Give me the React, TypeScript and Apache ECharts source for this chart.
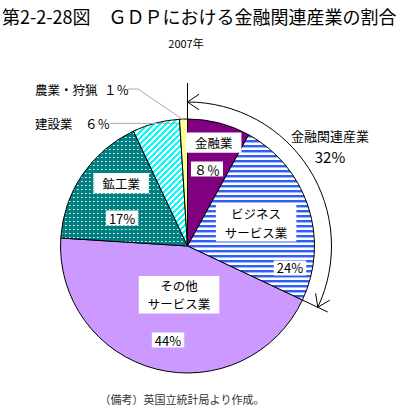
import React, { useEffect, useRef } from 'react';
import * as echarts from 'echarts';

const categories = ['金融業', 'ビジネスサービス業', 'その他サービス業', '鉱工業', '建設業', '農業・狩猟'];
const shares = [8, 24, 44, 17, 6, 1];
const shareText = ['８％', '24%', '44%', '17%', '６％', '１％'];
const labelLines = [['金融業'], ['ビジネス', 'サービス業'], ['その他', 'サービス業'], ['鉱工業'], ['建設業'], ['農業・狩猟']];
const groupName = '金融関連産業';
const groupCount = 2;
const titleText = '第2-2-28図　ＧＤＰにおける金融関連産業の割合';
const subtitleText = '2007年';
const noteText = '（備考）英国立統計局より作成。';

// layout (not data): [angle shift in degrees from slice middle, radius fraction]
const nameLayout = [[-0.2, 0.84], [-0.6, 0.57], [-4.6, 0.39], [9.3, 0.72]];
const pctLayout = [[-0.2, 0.625], [30.1, 0.825], [-2.7, 0.756], [-11.1, 0.56]];

const FONT = '"Noto Sans CJK JP", "Noto Sans", sans-serif';
const CX = 187.5;
const CY = 246;
const R = 127;

function pattern(kind: string) {
  let w = 4, h = 4;
  if (kind === 'hstripe') { w = 4; h = 5; }
  if (kind === 'diag') { w = 6; h = 6; }
  const c = document.createElement('canvas');
  c.width = w; c.height = h;
  const ctx = c.getContext('2d')!;
  for (let y = 0; y < h; y++) {
    for (let x = 0; x < w; x++) {
      let col = '#ffffff';
      if (kind === 'hstripe') {
        col = y < 2 ? '#2f5ff5' : y === 2 ? '#9fb5ff' : '#ffffff';
      } else if (kind === 'diag') {
        col = (x + y) % 6 < 3 ? '#00ffff' : '#ffffff';
      } else if (kind === 'dots') {
        col = x === 1 && y === 1 ? '#ffffff' : x === 2 && y === 1 ? '#7fbfbf' : '#008080';
      }
      ctx.fillStyle = col;
      ctx.fillRect(x, y, 1, 1);
    }
  }
  return { image: c.toDataURL(), repeat: 'repeat', imageWidth: w, imageHeight: h } as any;
}

function pt(deg: number, r: number): [number, number] {
  const a = (deg * Math.PI) / 180;
  return [CX + r * Math.sin(a), CY - r * Math.cos(a)];
}

export default function App() {
  const ref = useRef<HTMLDivElement>(null);
  useEffect(() => {
    const chart = echarts.init(ref.current!, null, { renderer: 'svg' });
    const fills = [
      '#800080',
      pattern('hstripe'),
      '#cc99ff',
      pattern('dots'),
      pattern('diag'),
      '#ffff99',
    ];
    const total = shares.reduce((a, b) => a + b, 0);
    const starts: number[] = [];
    let acc = 0;
    shares.forEach((v) => { starts.push((acc / total) * 360); acc += v; });
    const mids = shares.map((v, i) => starts[i] + (v / total) * 180);

    const graphics: any[] = [];
    const FS = 12.5;
    const LH = 18.2;
    const nameBox = (lines: string[], p: [number, number]) => {
      const n = lines.length;
      const maxLen = Math.max(...lines.map((s) => s.length));
      const w = maxLen * FS;
      lines.forEach((s, k) => {
        const top = k === 0 ? 1 : 0;
        const bottom = k === n - 1 ? 1 : 0;
        const cy = p[1] + (k - (n - 1) / 2) * LH;
        graphics.push({
          type: 'text', x: p[0], y: cy, z: 20,
          style: {
            text: s, fill: '#000', font: `${FS}px ${FONT}`, align: 'center', verticalAlign: 'middle',
            backgroundColor: '#fff', padding: [top, 9, bottom, 9], width: w, height: LH, lineHeight: LH,
          },
        });
      });
    };
    nameLayout.forEach((l, i) => {
      nameBox(labelLines[i], pt(mids[i] + l[0], R * l[1]));
    });
    pctLayout.forEach((l, i) => {
      const p = pt(mids[i] + l[0], R * l[1]);
      graphics.push({
        type: 'text', x: p[0], y: p[1], z: 20,
        style: {
          text: shareText[i], fill: '#000', font: `13px ${FONT}`, align: 'center', verticalAlign: 'middle',
          backgroundColor: '#fff', padding: [1, 3],
        },
      });
    });

    // outside labels for small slices
    const outside = [
      { i: 5, y: 89, pctX: 104 },
      { i: 4, y: 123, pctX: 85 },
    ];
    outside.forEach(({ i, y, pctX }) => {
      graphics.push({ type: 'text', x: 35, y, z: 20, style: { text: labelLines[i][0], fill: '#000', font: `12.5px ${FONT}`, align: 'left', verticalAlign: 'middle' } });
      graphics.push({ type: 'text', x: pctX, y, z: 20, style: { text: shareText[i], fill: '#000', font: `12.5px ${FONT}`, align: 'left', verticalAlign: 'middle' } });
    });
    // leader lines
    const agEnd = pt(mids[5], R - 1);
    graphics.push({ type: 'polyline', z: 15, shape: { points: [[128, 89], [138, 89], agEnd] }, style: { stroke: '#a8a8a8', lineWidth: 1, fill: null } });
    const cnEnd = pt(starts[5] - 1, R - 4);
    graphics.push({ type: 'line', z: 15, shape: { x1: 110, y1: cnEnd[1], x2: cnEnd[0], y2: cnEnd[1] }, style: { stroke: '#a8a8a8', lineWidth: 1 } });

    // group arc annotation
    const groupShare = shares.slice(0, groupCount).reduce((a, b) => a + b, 0);
    const endDeg = (groupShare / total) * 360;
    const AR = 144;
    graphics.push({
      type: 'arc', z: 15,
      shape: { cx: CX, cy: CY, r: AR, startAngle: -Math.PI / 2, endAngle: -Math.PI / 2 + (endDeg * Math.PI) / 180, clockwise: true },
      style: { stroke: '#000', lineWidth: 1, fill: null },
    });
    const t0 = pt(0, R), t1 = pt(0, 163);
    graphics.push({ type: 'line', z: 15, shape: { x1: t0[0], y1: t0[1], x2: t1[0], y2: t1[1] }, style: { stroke: '#000', lineWidth: 1 } });
    const e0 = pt(endDeg, R), e1 = pt(endDeg, 155);
    graphics.push({ type: 'line', z: 15, shape: { x1: e0[0], y1: e0[1], x2: e1[0], y2: e1[1] }, style: { stroke: '#000', lineWidth: 1 } });
    const arrow = (deg: number, dir: number) => {
      const tip = pt(deg, AR);
      const a = (deg * Math.PI) / 180;
      const tx = Math.cos(a) * dir, ty = Math.sin(a) * dir;
      const L = 14, th = (34 * Math.PI) / 180;
      const arm = (s: number) => {
        const c = Math.cos(s * th), sn = Math.sin(s * th);
        const rx = tx * c - ty * sn, ry = tx * sn + ty * c;
        return [tip[0] + L * rx, tip[1] + L * ry];
      };
      graphics.push({ type: 'polyline', z: 15, shape: { points: [arm(1), tip, arm(-1)] }, style: { stroke: '#000', lineWidth: 1, fill: null } });
    };
    arrow(0, 1);
    arrow(endDeg, -1);
    graphics.push({ type: 'text', x: 330, y: 135, z: 20, style: { text: groupName, fill: '#000', font: `13px ${FONT}`, align: 'center', verticalAlign: 'middle' } });
    graphics.push({ type: 'text', x: 330, y: 156, z: 20, style: { text: `${groupShare}%`, fill: '#000', font: `15px ${FONT}`, align: 'center', verticalAlign: 'middle' } });

    // titles
    graphics.push({ type: 'text', x: 2, y: 16, z: 20, style: { text: titleText, fill: '#000', font: `18px ${FONT}`, align: 'left', verticalAlign: 'middle' } });
    graphics.push({ type: 'text', x: 186, y: 43, z: 20, style: { text: subtitleText, fill: '#000', font: `11px ${FONT}`, align: 'center', verticalAlign: 'middle' } });
    graphics.push({ type: 'text', x: 182, y: 399, z: 20, style: { text: noteText, fill: '#333', font: `11px ${FONT}`, align: 'center', verticalAlign: 'middle' } });

    chart.setOption({
      animation: false,
      backgroundColor: '#fff',
      series: [
        {
          type: 'pie',
          center: [CX, CY],
          radius: R,
          startAngle: 90,
          clockwise: true,
          silent: true,
          label: { show: false },
          labelLine: { show: false },
          emphasis: { disabled: true },
          itemStyle: { borderColor: '#000', borderWidth: 1 },
          data: categories.map((name, i) => ({ name, value: shares[i], itemStyle: { color: fills[i] } })),
        },
      ],
      graphic: { elements: graphics },
    });
    return () => chart.dispose();
  }, []);
  return <div ref={ref} style={{ position: 'fixed', left: 0, top: 0, width: 400, height: 408 }} />;
}
